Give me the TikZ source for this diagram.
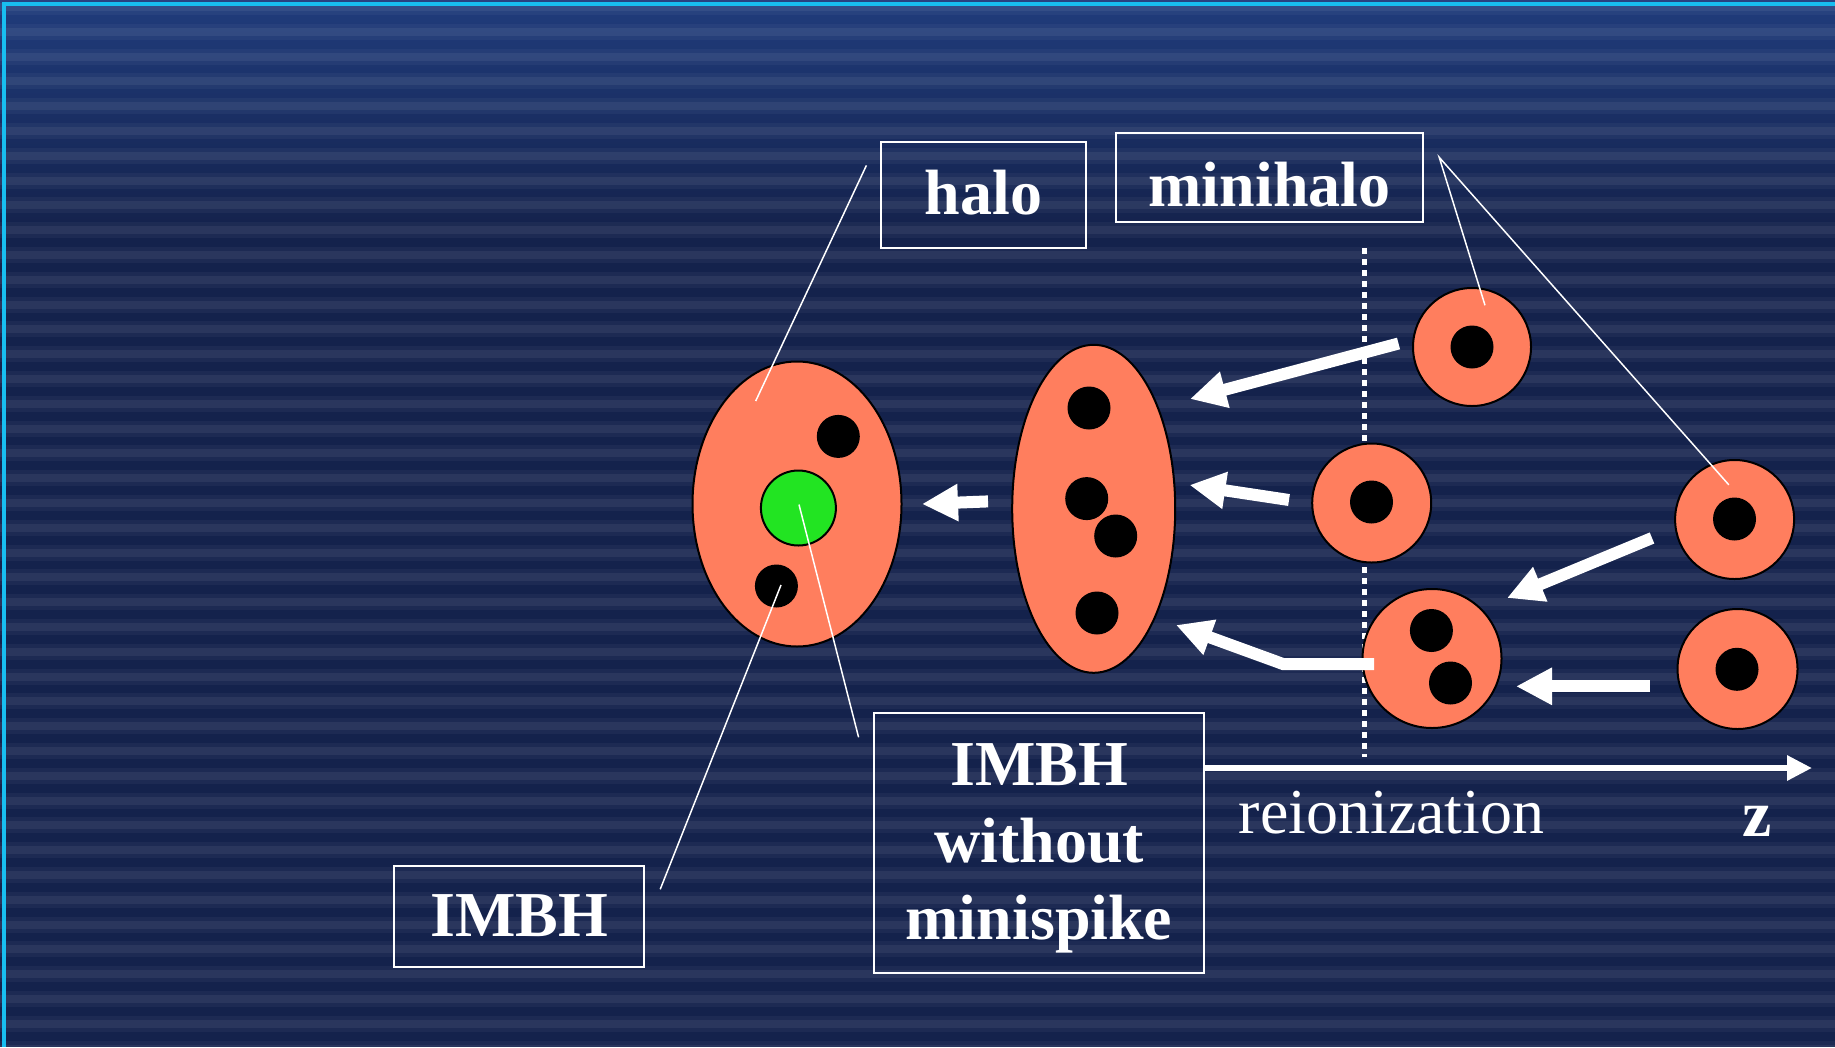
\documentclass[tikz,border=0pt]{standalone}
\usepackage{fontspec}
\setmainfont{Liberation Serif}
\usetikzlibrary{arrows.meta,shapes.geometric}
\definecolor{bgbase}{RGB}{20,34,76}
\definecolor{bgtop}{RGB}{32,60,124}
\definecolor{cyanline}{RGB}{24,190,240}
\definecolor{salmon}{RGB}{255,126,94}
\definecolor{imbhgreen}{RGB}{34,228,34}
\begin{document}
\begin{tikzpicture}[x=1pt,y=-1pt,
  box/.style={draw=white, line width=2pt, inner sep=0pt, text=white, font=\fontsize{64}{77}\selectfont\bfseries},
  halofill/.style={draw=black, line width=2pt, fill=salmon, inner sep=0pt},
  bh/.style={circle, fill=black, inner sep=0pt, minimum size=43pt},
  bigarrow/.style={draw=white, line width=12pt, line join=miter, -{Triangle[length=36pt,width=35pt]}},
  pointer/.style={draw=white, line width=1.5pt},
  plainlabel/.style={text=white, inner sep=0pt, anchor=base west},
]
\useasboundingbox (0,0) rectangle (1835,1047);
% background
\fill[bgbase] (0,0) rectangle (1835,1047);
\shade[top color=bgtop, bottom color=bgbase] (0,0) rectangle (1835,230);
\foreach \k in {0,...,42}{
  \fill[white, opacity=0.04] (0,{7+24.8*\k-8}) rectangle (1835,{7+24.8*\k+8});
  \fill[white, opacity=0.06] (0,{7+24.8*\k-4}) rectangle (1835,{7+24.8*\k+4});
}
\draw[cyanline, line width=3.2pt] (4,1047) -- (4,4) -- (1835,4);

% reionization line
\coordinate (reiontop) at (1364,248);
\coordinate (reionbot) at (1364,757);
\draw[white, line width=5pt, dash pattern=on 6pt off 5pt] (reiontop) -- (reionbot);

% halo
\node[halofill, ellipse, minimum width=209pt, minimum height=285pt] (halo) at (797,504) {};
\node[halofill, circle, fill=imbhgreen, minimum size=75pt] (imbh) at (798.4,508) {};
\node[bh] (hbh1) at (838.3,436.4) {};
\node[bh] (hbh2) at (776.4,586) {};

% merged intermediate halo
\node[halofill, ellipse, minimum width=163pt, minimum height=328pt] (mid) at (1093.7,508.8) {};
\node[bh] (mbh1) at (1089,408) {};
\node[bh] (mbh2) at (1086.7,498.6) {};
\node[bh] (mbh3) at (1115.7,536) {};
\node[bh] (mbh4) at (1097,613) {};

% minihalos
\node[halofill, circle, minimum size=118pt] (c1) at (1472,347) {};
\node[bh] (c1bh) at (1472,347) {};
\node[halofill, circle, minimum size=119pt] (c2) at (1371.7,503) {};
\node[bh] (c2bh) at (1371.5,502) {};
\node[halofill, circle, minimum size=119pt] (c3) at (1734.6,519.5) {};
\node[bh] (c3bh) at (1734.5,519) {};
\node[halofill, circle, minimum size=139pt] (c4) at (1432,658.5) {};
\node[bh] (c4bh1) at (1431.4,630.5) {};
\node[bh] (c4bh2) at (1450.5,683) {};
\node[halofill, circle, minimum size=120pt] (c5) at (1737.5,669) {};
\node[bh] (c5bh) at (1737,669.3) {};

% merger arrows
\coordinate (a1s) at (1398.5,343.5); \coordinate (a1e) at (1190,399);
\coordinate (a2s) at (1289,500);     \coordinate (a2e) at (1189.5,485);
\coordinate (a3s) at (1374,664);     \coordinate (a3m) at (1283,664); \coordinate (a3e) at (1176,625);
\coordinate (a4s) at (1652,538);     \coordinate (a4e) at (1507,598);
\coordinate (a5s) at (1650,686.3);   \coordinate (a5e) at (1516,686.3);
\coordinate (a6s) at (988,501.4);    \coordinate (a6e) at (922,504);
\draw[bigarrow] (a1s) -- (a1e);
\draw[bigarrow] (a2s) -- (a2e);
\draw[bigarrow] (a3s) -- (a3m) -- (a3e);
\draw[bigarrow] (a4s) -- (a4e);
\draw[bigarrow] (a5s) -- (a5e);
\draw[bigarrow] (a6s) -- (a6e);

% label boxes
\node[box, minimum width=205pt, minimum height=106pt, text height=45pt, text depth=5.8pt] (halobox) at (983.5,195) {halo};
\node[box, minimum width=307pt, minimum height=89pt, text height=57pt, text depth=0pt] (minibox) at (1269.5,177.5) {minihalo};
\node[box, minimum width=250pt, minimum height=101pt, text height=45pt, text depth=4.6pt] (imbhbox) at (519,916.5) {IMBH};
\node[box, minimum width=330pt, minimum height=260pt, align=center] (nospikebox) at (1039,843) {\rule{0pt}{53pt}IMBH\\without\\minispike};

% pointer lines
\coordinate (halop1) at (866.4,165.4); \coordinate (halop2) at (755.7,401);
\coordinate (minip0) at (1439.2,157.3); \coordinate (minip1) at (1485,305.3); \coordinate (minip2) at (1728.8,484.8);
\coordinate (imbhp1) at (660.2,889.3); \coordinate (imbhp2) at (781,585);
\coordinate (nsp1) at (858.6,737.3); \coordinate (nsp2) at (799,504.6);
\draw[pointer] (halop1) -- (halop2);
\draw[pointer] (minip1) -- (minip0) -- (minip2);
\draw[pointer] (imbhp1) -- (imbhp2);
\draw[pointer] (nsp1) -- (nsp2);

% redshift axis
\coordinate (zend) at (1812,768);
\draw[white, line width=6pt, -{Triangle[length=25pt,width=24pt]}] (zend -| nospikebox.east) -- (zend);
\node[plainlabel, font=\fontsize{64}{77}\selectfont] (reion) at (1238.5,833) {reionization};
\node[plainlabel, font=\fontsize{66}{77}\selectfont\bfseries] (zlabel) at (1742.7,836.7) {z};
\end{tikzpicture}
\end{document}
